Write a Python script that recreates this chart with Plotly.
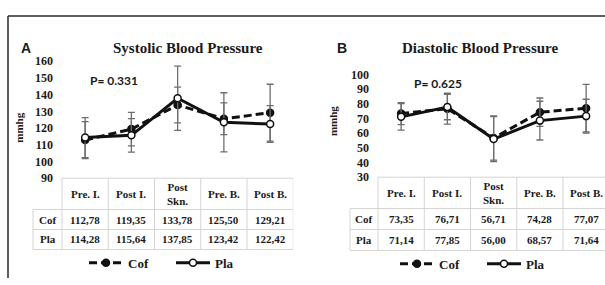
import plotly.graph_objects as go

# ---------------- data ----------------
categories = ["Pre. I.", "Post I.", "Post<br>Skn.", "Pre. B.", "Post B."]
series_names = ["Cof", "Pla"]

sbp_cof = [112.78, 119.35, 133.78, 125.50, 129.21]
sbp_pla = [114.28, 115.64, 137.85, 123.42, 122.42]
sbp_cof_sd = [11.0, 10.0, 10.7, 9.5, 17.0]
sbp_pla_sd = [12.0, 10.0, 19.2, 17.7, 11.0]

dbp_cof = [73.35, 76.71, 56.71, 74.28, 77.07]
dbp_pla = [71.14, 77.85, 56.00, 68.57, 71.64]
dbp_cof_sd = [7.5, 10.5, 15.0, 9.7, 16.2]
dbp_pla_sd = [9.0, 8.7, 15.3, 13.2, 11.5]

sbp_ticks = [90, 100, 110, 120, 130, 140, 150, 160]
dbp_ticks = [30, 40, 50, 60, 70, 80, 90, 100]

titles = ["Systolic Blood Pressure", "Diastolic Blood Pressure"]
panel_letters = ["A", "B"]
p_values = ["P= 0.331", "P= 0.625"]
y_label = "mmhg"

# ---------------- layout helpers ----------------
W, H = 605, 285
def px(x):
    return x / W
def py(y):
    return 1 - y / H

def fmt(v):
    return f"{v:.2f}".replace(".", ",")

SERIF = "Liberation Serif, Times New Roman, serif"
SANS = "Liberation Sans, Arial, sans-serif"
TXT = "#1a1a1a"
GRID = "#d4d4d4"
ERR = "#6e6e6e"

COLW = 46.25
panels = [
    dict(vals=(sbp_cof, sbp_pla), sds=(sbp_cof_sd, sbp_pla_sd), ticks=sbp_ticks,
         yr=(90, 160), ypx=(180, 57), dom_left=31, col0=62, tab_left=33,
         dom_right=62 + 5 * COLW, ytickpos=53, rows=(180, 213, 234, 255),
         title_x=188, letter_x=26, ylab_x=19, ylab_y=127, p_x=88, p_y=77,
         leg_x=84, leg_y=269),
    dict(vals=(dbp_cof, dbp_pla), sds=(dbp_cof_sd, dbp_pla_sd), ticks=dbp_ticks,
         yr=(30, 100), ypx=(179, 71), dom_left=348, col0=378, tab_left=350,
         dom_right=605, ytickpos=369, rows=(179, 212, 234, 256),
         title_x=480, letter_x=342, ylab_x=333, ylab_y=120, p_x=412, p_y=80,
         leg_x=395, leg_y=270),
]

fig = go.Figure()
annotations = []
shapes = []
layout_axes = {}

for i, pn in enumerate(panels):
    sfx = "" if i == 0 else str(i + 1)
    xa, ya = "x" + sfx, "y" + sfx
    legend_id = "legend" + sfx
    xr0 = -0.5 - (pn["col0"] - pn["dom_left"]) / COLW
    xr1 = xr0 + (pn["dom_right"] - pn["dom_left"]) / COLW
    tab_left = -0.5 - (pn["col0"] - pn["tab_left"]) / COLW
    xs = list(range(len(categories)))

    # series
    for s, name in enumerate(series_names):
        filled = s == 0
        fig.add_trace(go.Scatter(
            x=xs, y=pn["vals"][s], name=name, xaxis=xa, yaxis=ya,
            mode="lines+markers", legend=legend_id, showlegend=True,
            line=dict(color="#111111", width=3, dash="8px,4px" if filled else "solid"),
            marker=dict(symbol="circle", size=7,
                        color="#111111" if filled else "white",
                        line=dict(color="#111111", width=1.5)),
            error_y=dict(type="data", array=pn["sds"][s], visible=True,
                         color=ERR, thickness=1.3, width=3.5),
            cliponaxis=False,
        ))

    layout_axes["xaxis" + sfx] = dict(
        domain=[px(pn["dom_left"]), px(pn["dom_right"])], range=[xr0, xr1],
        visible=False, anchor=ya, fixedrange=True)
    layout_axes["yaxis" + sfx] = dict(
        domain=[py(pn["ypx"][0]), py(pn["ypx"][1])], range=list(pn["yr"]),
        tickvals=pn["ticks"], ticktext=[str(t) for t in pn["ticks"]],
        showgrid=False, zeroline=False, showline=False, ticks="",
        anchor="free", position=px(pn["ytickpos"]), fixedrange=True,
        tickfont=dict(family=SERIF, size=12, color=TXT, weight="bold"))

    # legend
    layout_axes[legend_id] = dict(
        x=px(pn["leg_x"]), y=py(pn["leg_y"]), xanchor="left", yanchor="middle",
        orientation="h", bgcolor="rgba(0,0,0,0)", borderwidth=0,
        font=dict(family=SERIF, size=13, color=TXT, weight="bold"),
        entrywidth=38, entrywidthmode="pixels", itemwidth=34, tracegroupgap=0)

    # titles and labels
    annotations.append(dict(text=titles[i], x=px(pn["title_x"]), y=py(43),
                            xref="paper", yref="paper", showarrow=False,
                            xanchor="center", yanchor="middle",
                            font=dict(family=SERIF, size=15, color=TXT, weight="bold")))
    annotations.append(dict(text=panel_letters[i], x=px(pn["letter_x"]), y=py(43),
                            xref="paper", yref="paper", showarrow=False,
                            xanchor="center", yanchor="middle",
                            font=dict(family=SANS, size=14, color=TXT, weight="bold")))
    annotations.append(dict(text=y_label, x=px(pn["ylab_x"]), y=py(pn["ylab_y"]),
                            xref="paper", yref="paper", showarrow=False, textangle=-90,
                            xanchor="center", yanchor="middle",
                            font=dict(family=SERIF, size=11, color=TXT, weight="bold")))
    annotations.append(dict(text=p_values[i], x=px(pn["p_x"]), y=py(pn["p_y"]),
                            xref="paper", yref="paper", showarrow=False,
                            xanchor="left", yanchor="middle",
                            font=dict(family="Lato, " + SANS, size=12, color=TXT, weight="bold")))

    # table
    r = pn["rows"]
    row_centers = [(r[0] + r[1]) / 2, (r[1] + r[2]) / 2, (r[2] + r[3]) / 2]
    for c, cat in enumerate(categories):
        annotations.append(dict(text=cat, x=c, y=py(row_centers[0]), xref=xa, yref="paper",
                                showarrow=False, xanchor="center", yanchor="middle",
                                font=dict(family=SERIF, size=11, color=TXT, weight="bold")))
        for s in range(2):
            annotations.append(dict(text=fmt(pn["vals"][s][c]), x=c, y=py(row_centers[s + 1]),
                                    xref=xa, yref="paper", showarrow=False,
                                    xanchor="center", yanchor="middle",
                                    font=dict(family=SERIF, size=11, color=TXT, weight="bold")))
    for s, name in enumerate(series_names):
        annotations.append(dict(text=name, x=(tab_left - 0.5) / 2, y=py(row_centers[s + 1]),
                                xref=xa, yref="paper", showarrow=False,
                                xanchor="center", yanchor="middle",
                                font=dict(family=SERIF, size=11, color=TXT, weight="bold")))
    lw = dict(color=GRID, width=1)
    shapes.append(dict(type="line", xref=xa, yref="paper", x0=-0.5, x1=4.5,
                       y0=py(r[0]), y1=py(r[0]), line=lw))
    for yy in r[1:]:
        shapes.append(dict(type="line", xref=xa, yref="paper", x0=tab_left, x1=4.5,
                           y0=py(yy), y1=py(yy), line=lw))
    for k in range(len(categories) + 1):
        shapes.append(dict(type="line", xref=xa, yref="paper", x0=k - 0.5, x1=k - 0.5,
                           y0=py(r[0]), y1=py(r[3]), line=lw))
    shapes.append(dict(type="line", xref=xa, yref="paper", x0=tab_left, x1=tab_left,
                       y0=py(r[1]), y1=py(r[3]), line=lw))

# frame lines
shapes.append(dict(type="line", xref="paper", yref="paper", x0=px(8), x1=1,
                   y0=py(9.5), y1=py(9.5), line=dict(color="#2a2a2a", width=1.5)))
shapes.append(dict(type="line", xref="paper", yref="paper", x0=px(8), x1=px(8),
                   y0=py(9.5), y1=0, line=dict(color="#2a2a2a", width=1.5)))

fig.update_layout(
    width=W, height=H, margin=dict(l=0, r=0, t=0, b=0),
    paper_bgcolor="white", plot_bgcolor="white", hovermode=False,
    annotations=annotations, shapes=shapes, **layout_axes)

fig.write_html("out.html", config={"displayModeBar": False, "staticPlot": True},
               post_script="document.body.style.margin='0px';document.body.style.overflow='hidden';")
